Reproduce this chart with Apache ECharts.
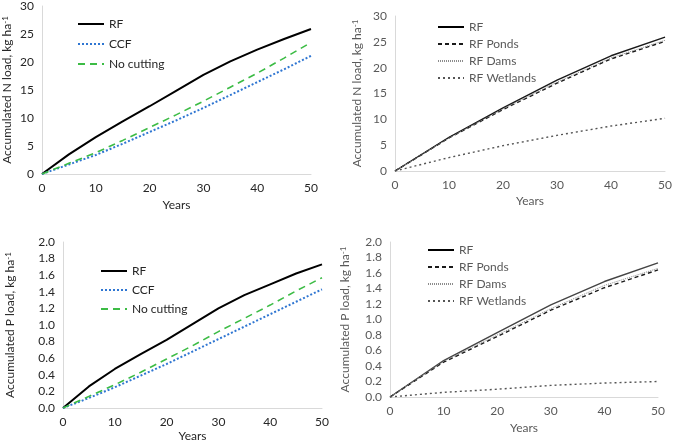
<!DOCTYPE html>
<html>
<head>
<meta charset="utf-8">
<script src="https://cdn.jsdelivr.net/npm/echarts@6/dist/echarts.min.js"></script>
<style>
  html, body { margin: 0; padding: 0; background: #fff; }
  #chart { width: 675px; height: 443px; }
</style>
</head>
<body>
<div id="chart"></div>
<script>
// ------------------ data ------------------
// left panels: every 5 years
const years5 = [0, 5, 10, 15, 20, 25, 30, 35, 40, 45, 50]
const nRF = [0, 3.5, 6.6, 9.4, 12.1, 14.9, 17.7, 20.1, 22.2, 24.1, 25.9]
const nCCF = [0, 1.7, 3.4, 5.4, 7.5, 9.6, 11.8, 14.1, 16.4, 18.7, 21.1]
const nNoCut = [0, 1.9, 3.8, 6.0, 8.3, 10.6, 13.0, 15.5, 18.0, 20.7, 23.5]
const pRF = [0, 0.26, 0.47, 0.65, 0.82, 1.01, 1.20, 1.36, 1.49, 1.62, 1.73]
const pCCF = [0, 0.12, 0.25, 0.39, 0.53, 0.68, 0.83, 0.98, 1.13, 1.28, 1.43]
const pNoCut = [0, 0.14, 0.28, 0.43, 0.59, 0.75, 0.92, 1.08, 1.24, 1.41, 1.57]

// right panels: every 10 years
const years10 = [0, 10, 20, 30, 40, 50]
const nRF2 = [0, 6.5, 12.2, 17.6, 22.3, 25.9]
const nPonds = [0, 6.4, 11.9, 17.0, 21.7, 25.1]
const nDams = [0, 6.4, 12.0, 17.2, 21.9, 25.3]
const nWet = [0, 2.6, 4.9, 6.9, 8.7, 10.2]
const pRF2 = [0, 0.47, 0.83, 1.19, 1.49, 1.73]
const pPonds = [0, 0.45, 0.78, 1.12, 1.41, 1.64]
const pDams = [0, 0.46, 0.80, 1.14, 1.44, 1.66]
const pWet = [0, 0.06, 0.10, 0.15, 0.18, 0.20]

const leftNames = ['RF', 'CCF', 'No cutting']
const rightNames = ['RF', 'RF Ponds', 'RF Dams', 'RF Wetlands']

// ------------------ helpers ------------------
const FONT = 'Lato, "Open Sans", sans-serif'
const DARK = '#262626'
const GREY = '#595959'

function pairs (xs, ys) {
  return xs.map((x, i) => [x, ys[i]])
}

function xAxisOf (idx, color, gap) {
  return {
    gridIndex: idx,
    type: 'value',
    min: 0,
    max: 50,
    interval: 10,
    name: 'Years',
    nameLocation: 'middle',
    nameGap: gap,
    nameTextStyle: { color: color, fontSize: 12, fontFamily: FONT },
    axisLine: { lineStyle: { color: '#d9d9d9' } },
    axisTick: { show: false },
    splitLine: { show: false },
    axisLabel: { color: color, fontSize: 12, fontFamily: FONT, margin: 8 }
  }
}

function yAxisOf (idx, color, max, interval, title, gap, digits) {
  return {
    gridIndex: idx,
    type: 'value',
    min: 0,
    max: max,
    interval: interval,
    name: title + '{sup|-1}',
    nameLocation: 'middle',
    nameGap: gap,
    nameTextStyle: {
      color: color,
      fontSize: 12,
      fontFamily: FONT,
      rich: { sup: { fontSize: 8, verticalAlign: 'top', color: color, fontFamily: FONT, padding: [0, 0, 5, 0] } }
    },
    axisLine: { show: true, lineStyle: { color: '#d9d9d9' } },
    axisTick: { show: false },
    splitLine: { show: false },
    axisLabel: {
      color: color,
      fontSize: 12,
      fontFamily: FONT,
      margin: 8,
      formatter: v => v.toFixed(digits)
    }
  }
}

function lineSeries (name, idx, data, color, width, type) {
  return {
    name: name,
    type: 'line',
    xAxisIndex: idx,
    yAxisIndex: idx,
    data: data,
    symbol: 'none',
    smooth: false,
    silent: true,
    lineStyle: { color: color, width: width, type: type, cap: 'butt' },
    itemStyle: { color: color }
  }
}

function legendOf (idx, names, left, top, gap, color) {
  return {
    id: 'lg' + idx,
    data: names,
    orient: 'vertical',
    left: left,
    top: top,
    itemWidth: 26,
    itemHeight: 14,
    itemGap: gap,
    selectedMode: false,
    itemStyle: { opacity: 0, borderWidth: 0 }, // hide the symbol, keep the line
    textStyle: { color: color, fontSize: 12, fontFamily: FONT }
  }
}

const chart = echarts.init(document.getElementById('chart'), null, { renderer: 'canvas' })

const option = {
  animation: false,
  backgroundColor: '#fff',
  grid: [
    { left: 41, top: 6, width: 270, height: 168 },
    { left: 395, top: 16, width: 272, height: 155 },
    { left: 63, top: 242, width: 259, height: 166 },
    { left: 390, top: 242, width: 268, height: 155 }
  ],
  xAxis: [
    xAxisOf(0, DARK, 25),
    xAxisOf(1, GREY, 24),
    xAxisOf(2, DARK, 22),
    xAxisOf(3, GREY, 25)
  ],
  yAxis: [
    yAxisOf(0, DARK, 30, 5, 'Accumulated N load, kg ha', 28, 0),
    yAxisOf(1, GREY, 30, 5, 'Accumulated N load, kg ha', 31, 0),
    yAxisOf(2, DARK, 2, 0.2, 'Accumulated P load, kg ha', 46, 1),
    yAxisOf(3, GREY, 2, 0.2, 'Accumulated P load, kg ha', 38, 1)
  ],
  series: [
    // top left: N, forestry
    lineSeries('RF', 0, pairs(years5, nRF), '#000', 2, 'solid'),
    lineSeries('CCF', 0, pairs(years5, nCCF), '#2f76d2', 2, [2, 2]),
    lineSeries('No cutting', 0, pairs(years5, nNoCut), '#3cbc45', 1.6, [7, 5]),
    // top right: N, measures
    lineSeries('RF', 1, pairs(years10, nRF2), '#1a1a1a', 1.4, 'solid'),
    lineSeries('RF Ponds', 1, pairs(years10, nPonds), '#1a1a1a', 1.4, [4, 3]),
    lineSeries('RF Dams', 1, pairs(years10, nDams), '#8c8c8c', 1, [1, 1]),
    lineSeries('RF Wetlands', 1, pairs(years10, nWet), '#555', 1.4, [2, 3]),
    // bottom left: P, forestry
    lineSeries('RF', 2, pairs(years5, pRF), '#000', 2, 'solid'),
    lineSeries('CCF', 2, pairs(years5, pCCF), '#2f76d2', 2, [2, 2]),
    lineSeries('No cutting', 2, pairs(years5, pNoCut), '#3cbc45', 1.6, [7, 5]),
    // bottom right: P, measures
    lineSeries('RF', 3, pairs(years10, pRF2), '#444', 1.4, 'solid'),
    lineSeries('RF Ponds', 3, pairs(years10, pPonds), '#1a1a1a', 1.4, [4, 3]),
    lineSeries('RF Dams', 3, pairs(years10, pDams), '#8c8c8c', 1, [1, 1]),
    lineSeries('RF Wetlands', 3, pairs(years10, pWet), '#555', 1.4, [2, 3])
  ],
  legend: [
    legendOf(0, leftNames, 72, 13, 8, DARK),
    legendOf(1, rightNames, 432, 16, 5, GREY),
    legendOf(2, leftNames, 95, 260, 7, DARK),
    legendOf(3, rightNames, 422, 239, 5, GREY)
  ]
}

chart.setOption(option)
</script>
</body>
</html>
